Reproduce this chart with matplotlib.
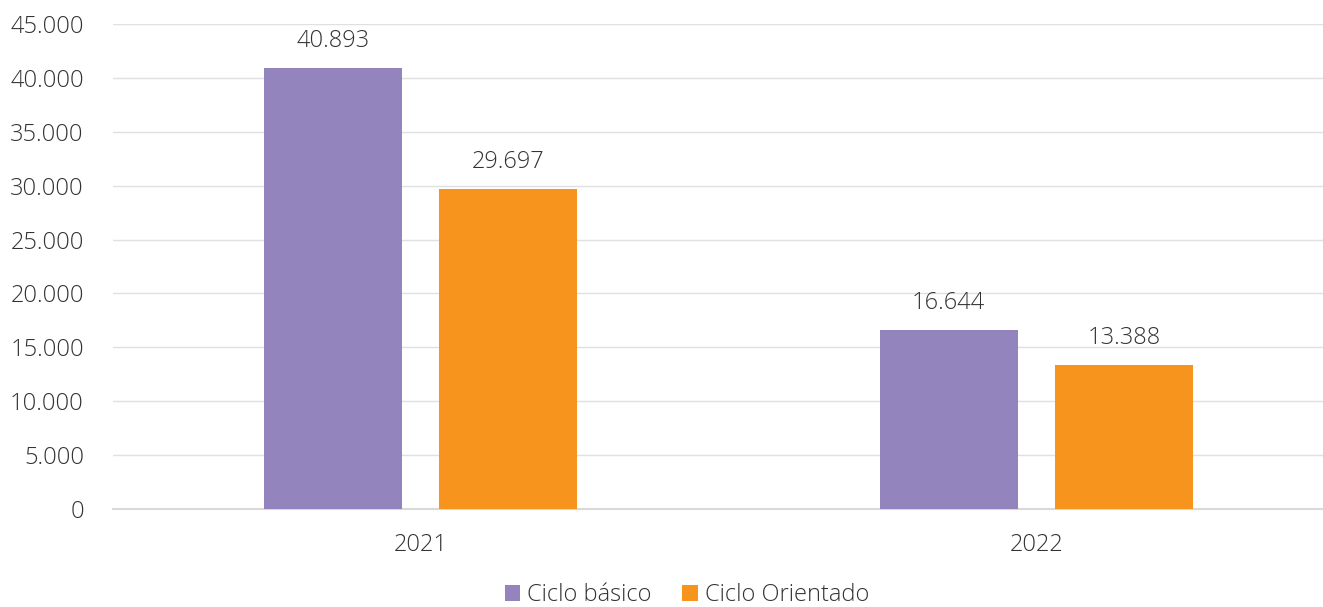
import matplotlib.pyplot as plt
import numpy as np

plt.rcParams['font.family'] = ['Open Sans', 'DejaVu Sans']
plt.rcParams['font.weight'] = 'light'

years = ['2021', '2022']
basico = [40893, 16644]
orientado = [29697, 13388]
labels = ['Ciclo básico', 'Ciclo Orientado']
colors = ['#9384BE', '#F7941E']

def fmt(v):
    return f'{v:,.0f}'.replace(',', '.')

bar_width = 0.224
offset = 0.1425
x_pos = np.arange(len(years))

fig = plt.figure(figsize=(13.23, 6.07), dpi=100)
ax = fig.add_axes([113 / 1323, 1 - 509 / 607, 1 - 113 / 1323, 485 / 607])

b1 = ax.bar(x_pos - offset, basico, bar_width, color=colors[0], label=labels[0], zorder=3)
b2 = ax.bar(x_pos + offset, orientado, bar_width, color=colors[1], label=labels[1], zorder=3)

for bars in (b1, b2):
    for r in bars:
        ax.text(r.get_x() + r.get_width() / 2, r.get_height() + 1400, fmt(r.get_height()),
                ha='center', va='bottom', fontsize=17, color='#333333')

ax.set_ylim(0, 45000)
ax.set_xlim(-(420.5 - 113) / 616, 1 + (1323 - 1036.5) / 616)
ax.set_yticks(np.arange(0, 45001, 5000))
ax.set_yticklabels([fmt(v) for v in np.arange(0, 45001, 5000)])
ax.set_xticks(x_pos)
ax.set_xticklabels(years)
ax.tick_params(axis='both', length=0, labelsize=17, colors='#333333')
ax.tick_params(axis='y', pad=21)
ax.tick_params(axis='x', pad=17)

ax.grid(axis='y', color='#E0E0E0', linewidth=1.0, zorder=0)
for s in ['top', 'right', 'left']:
    ax.spines[s].set_visible(False)
ax.spines['bottom'].set_color('#D9D9D9')
ax.spines['bottom'].set_linewidth(1.5)

fig.legend(loc='center', bbox_to_anchor=(687 / 1323, 1 - 595 / 607), ncol=2, frameon=False,
           fontsize=17, handlelength=0.65, handleheight=0.65, handletextpad=0.3, columnspacing=1.3,
           labelcolor='#333333')

fig.savefig('out.png', dpi=100)
